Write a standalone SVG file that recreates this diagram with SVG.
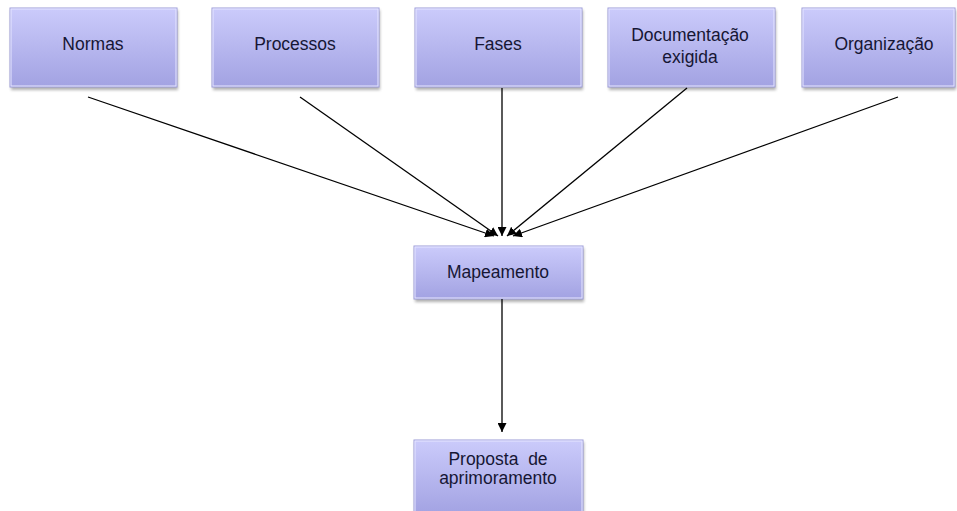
<svg xmlns="http://www.w3.org/2000/svg" width="957" height="511" viewBox="0 0 957 511">
<defs>
<linearGradient id="g" x1="0" y1="0" x2="0" y2="1">
<stop offset="0" stop-color="#cbcbfb"/>
<stop offset="1" stop-color="#a2a2e2"/>
</linearGradient>
<filter id="sh" x="-10%" y="-10%" width="120%" height="140%">
<feGaussianBlur stdDeviation="1.5"/>
</filter>
<marker id="ah" viewBox="0 0 10 10" refX="10" refY="5" markerWidth="9" markerHeight="9" markerUnits="userSpaceOnUse" orient="auto">
<path d="M0,0 L10,5 L0,10 z" fill="#000"/>
</marker>
<style>
.box{fill:url(#g);stroke:#9c9cd8;stroke-width:1}
.shd{fill:#7a7a7a;opacity:0.6;filter:url(#sh)}
.hl{fill:none;stroke:#e6e6ff;stroke-width:1}
.t{font-family:"Liberation Sans",Arial,sans-serif;font-size:17.5px;fill:#161634;text-anchor:middle}
.c{stroke:#000;stroke-width:1.3;fill:none;marker-end:url(#ah)}
</style>
</defs>
<rect width="957" height="511" fill="#fff"/>
<g id="normas">
<rect class="shd" x="11" y="10" width="167" height="80"/>
<rect class="box" x="10" y="8" width="167" height="79"/>
<rect class="hl" x="11" y="9" width="165" height="77"/>
<text class="t" x="93" y="50">Normas</text>
</g>
<g id="processos">
<rect class="shd" x="213" y="10" width="167" height="80"/>
<rect class="box" x="212" y="8" width="167" height="79"/>
<rect class="hl" x="213" y="9" width="165" height="77"/>
<text class="t" x="295" y="50">Processos</text>
</g>
<g id="fases">
<rect class="shd" x="416" y="10" width="167" height="80"/>
<rect class="box" x="415" y="8" width="167" height="79"/>
<rect class="hl" x="416" y="9" width="165" height="77"/>
<text class="t" x="498" y="50">Fases</text>
</g>
<g id="documentacao">
<rect class="shd" x="609" y="10" width="167" height="80"/>
<rect class="box" x="608" y="8" width="167" height="79"/>
<rect class="hl" x="609" y="9" width="165" height="77"/>
<text class="t" x="690" y="41">Documentação</text>
<text class="t" x="690" y="63">exigida</text>
</g>
<g id="organizacao">
<rect class="shd" x="803" y="10" width="153" height="80"/>
<rect class="box" x="802" y="8" width="153" height="79"/>
<rect class="hl" x="803" y="9" width="151" height="77"/>
<text class="t" x="884" y="50">Organização</text>
</g>
<g id="mapeamento">
<rect class="shd" x="415" y="248" width="169" height="54"/>
<rect class="box" x="414" y="246" width="169" height="53"/>
<rect class="hl" x="415" y="247" width="167" height="51"/>
<text class="t" x="498" y="278">Mapeamento</text>
</g>
<g id="proposta">
<rect class="shd" x="415" y="442" width="169" height="75"/>
<rect class="box" x="414" y="440" width="169" height="75"/>
<rect class="hl" x="415" y="441" width="167" height="73"/>
<text class="t" x="498" y="465" xml:space="preserve">Proposta  de</text>
<text class="t" x="498" y="484">aprimoramento</text>
</g>
<g id="connectors">
<line class="c" x1="88" y1="97" x2="494" y2="236"/>
<line class="c" x1="300" y1="97" x2="498" y2="236"/>
<line class="c" x1="502" y1="88" x2="502" y2="236"/>
<line class="c" x1="687" y1="88" x2="507" y2="236"/>
<line class="c" x1="898" y1="97" x2="513" y2="236"/>
<line class="c" x1="502" y1="299" x2="502" y2="432"/>
</g>
</svg>
